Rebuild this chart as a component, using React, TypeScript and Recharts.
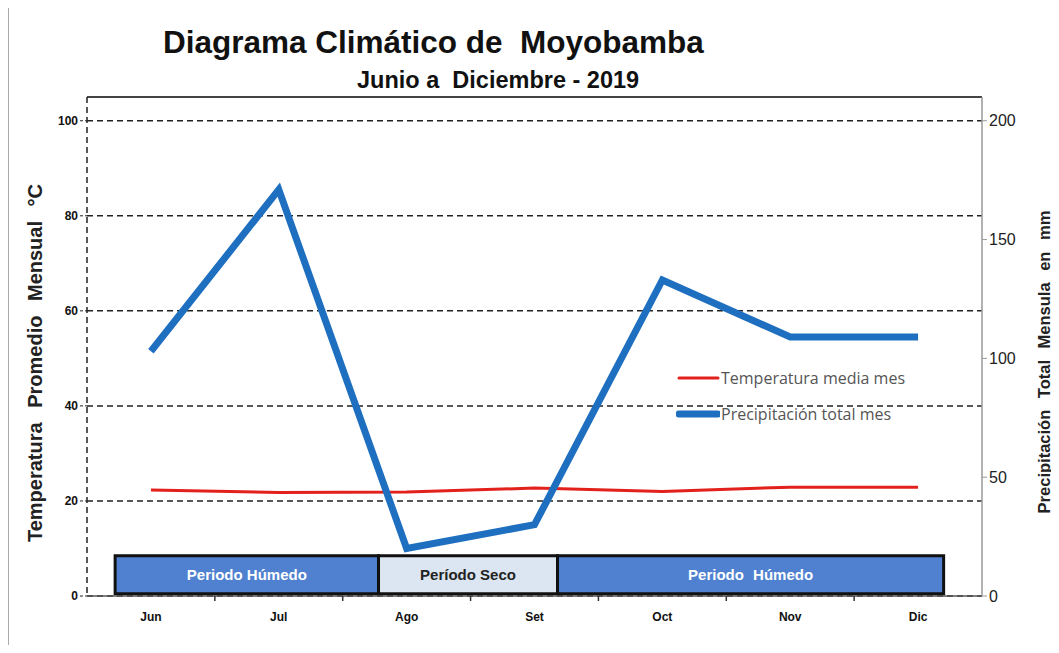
import {
  LineChart,
  Line,
  XAxis,
  YAxis,
  CartesianGrid,
  ReferenceArea,
  ReferenceLine,
} from 'recharts'

const months = ['Jun', 'Jul', 'Ago', 'Set', 'Oct', 'Nov', 'Dic']
const temperature = [22.3, 21.8, 21.9, 22.7, 22.0, 22.9, 22.9]
const precipitation = [103, 171, 20, 30, 133, 109, 109]

const tempTicks = [0, 20, 40, 60, 80, 100]
const precTicks = [0, 50, 100, 150, 200]

// periods, in month slots (0 = start of Jun, 7 = end of Dic)
const periodLabels = ['Periodo Húmedo', 'Período Seco', 'Periodo  Húmedo']
const periodStart = [0.22, 2.28, 3.68]
const periodEnd = [2.28, 3.68, 6.7]
const periodDry = [false, true, false]

const seriesNames = ['Temperatura media mes', 'Precipitación total mes']
const leftTitle = 'Temperatura Promedio Mensual °C'
const rightTitle = 'Precipitación Total Mensula en mm'

// each month sits in the middle of its slot
const data = months.map((m, i) => ({
  slot: i + 0.5,
  month: m,
  temp: temperature[i],
  prec: precipitation[i],
}))
const monthTicks = data.map((d) => d.slot)

const W = 1043
const H = 637
const BAND = 895 / 7

function MonthTick(props: any) {
  const { x, y, payload, index, visibleTicksCount } = props
  return (
    <g>
      <text
        x={x}
        y={y + 25}
        textAnchor="middle"
        fontSize={12}
        fontWeight="bold"
        fill="#111"
        fontFamily="Liberation Sans, Arial, sans-serif"
      >
        {months[Math.floor(payload.value)]}
      </text>
      {index < visibleTicksCount - 1 && (
        <line x1={x + BAND / 2} x2={x + BAND / 2} y1={y} y2={y + 5} stroke="#333" strokeWidth={1.5} />
      )}
    </g>
  )
}

function LegendBox() {
  const rows = [
    { label: seriesNames[0], color: '#e3211c', w: 3 },
    { label: seriesNames[1], color: '#1f6fc0', w: 7 },
  ]
  return (
    <div
      style={{
        position: 'absolute',
        left: 668,
        top: 352,
        fontFamily: 'Open Sans, sans-serif',
        fontSize: 16,
        color: '#555',
      }}
    >
      {rows.map((r) => (
        <div key={r.label} style={{ display: 'flex', alignItems: 'center', height: 36 }}>
          <svg width={44} height={12} style={{ marginRight: 1 }}>
            <line x1={3} x2={42} y1={6} y2={6} stroke={r.color} strokeWidth={r.w} strokeLinecap="round" />
          </svg>
          <span>{r.label}</span>
        </div>
      ))}
    </div>
  )
}

function AxisTitle({ text, cx, cy, size, spacing }: { text: string; cx: number; cy: number; size: number; spacing: number }) {
  return (
    <div
      style={{
        position: 'absolute',
        left: cx,
        top: cy,
        transform: 'translate(-50%, -50%) rotate(-90deg)',
        whiteSpace: 'nowrap',
        fontSize: size,
        fontWeight: 'bold',
        color: '#222',
        wordSpacing: spacing,
        lineHeight: 1,
      }}
    >
      {text}
    </div>
  )
}

export default function App() {
  return (
    <div style={{ position: 'relative', width: W, height: H, fontFamily: 'Liberation Sans, Arial, sans-serif' }}>
      <div style={{ position: 'absolute', left: 0, top: -8, width: 1, height: 653, background: '#aaa' }} />
      <div
        style={{
          position: 'absolute',
          left: 155,
          top: 17,
          fontSize: 31.5,
          lineHeight: '34px',
          fontWeight: 'bold',
          color: '#111',
          whiteSpace: 'pre',
        }}
      >
        Diagrama Climático de  Moyobamba
      </div>
      <div
        style={{
          position: 'absolute',
          left: 349,
          top: 59,
          fontSize: 23.5,
          lineHeight: '26px',
          fontWeight: 'bold',
          fontFamily: 'Liberation Sans Narrow, Arial Narrow, sans-serif',
          color: '#111',
          whiteSpace: 'pre',
        }}
      >
        Junio a  Diciembre - 2019
      </div>
      <LineChart width={W} height={H} data={data} margin={{ top: 89, right: 0, bottom: 0, left: 0 }}>
        <XAxis
          dataKey="slot"
          type="number"
          domain={[0, 7]}
          allowDataOverflow
          ticks={monthTicks}
          interval={0}
          height={49}
          axisLine={{ stroke: '#555', strokeWidth: 1.5 }}
          tickLine={false}
          tickSize={0}
          tickMargin={0}
          tick={<MonthTick />}
        />
        <YAxis
          yAxisId="left"
          domain={[0, 105]}
          ticks={tempTicks}
          width={79}
          axisLine={{ stroke: '#222', strokeDasharray: '6 4', strokeWidth: 1.5 }}
          tickLine={{ stroke: '#222', strokeDasharray: '3 2' }}
          tickSize={7}
          tick={{ fontSize: 12, fontWeight: 'bold', fill: '#111' }}
        />
        <YAxis
          yAxisId="right"
          orientation="right"
          domain={[0, 210]}
          ticks={precTicks}
          width={69}
          axisLine={{ stroke: '#999', strokeWidth: 1.5 }}
          tickLine={{ stroke: '#999' }}
          tickSize={5}
          tick={{ fontSize: 16, fill: '#222' }}
        />
        <CartesianGrid yAxisId="left" vertical={false} stroke="#222" strokeDasharray="6 4" strokeWidth={1.5} />
        <ReferenceLine yAxisId="left" y={105} stroke="#444" strokeWidth={2} />
        {periodLabels.map((p, i) => (
          <ReferenceArea
            key={p}
            yAxisId="left"
            x1={periodStart[i]}
            x2={periodEnd[i]}
            y1={0.45}
            y2={8.45}
            fill={periodDry[i] ? '#dce6f2' : '#4f81d0'}
            fillOpacity={1}
            stroke="#111"
            strokeWidth={3}
            label={{
              value: p,
              position: 'center',
              fill: periodDry[i] ? '#222' : '#fff',
              fontSize: 15,
              fontWeight: 'bold',
              style: { wordSpacing: i === 2 ? 5 : 0 },
            }}
          />
        ))}
        <Line
          yAxisId="left"
          dataKey="temp"
          name={seriesNames[0]}
          stroke="#e3211c"
          strokeWidth={3}
          dot={false}
          isAnimationActive={false}
        />
        <Line
          yAxisId="right"
          dataKey="prec"
          name={seriesNames[1]}
          stroke="#1f6fc0"
          strokeWidth={7}
          strokeLinejoin="miter"
          dot={false}
          isAnimationActive={false}
        />
      </LineChart>
      <LegendBox />
      <AxisTitle text={leftTitle} cx={27} cy={355} size={20} spacing={9} />
      <AxisTitle text={rightTitle} cx={1036} cy={354} size={16.5} spacing={7} />
    </div>
  )
}
